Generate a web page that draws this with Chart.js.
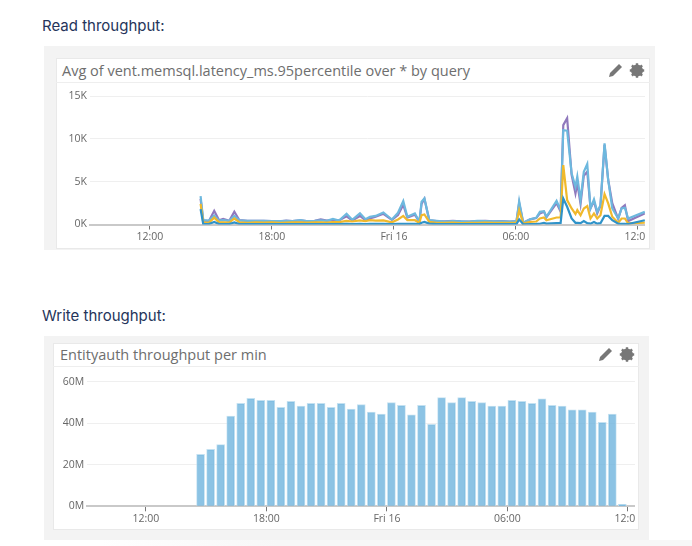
<!DOCTYPE html>
<html>
<head>
<meta charset="utf-8">
<script src="https://cdn.jsdelivr.net/npm/chart.js@4"></script>
<style>
  html, body { margin: 0; padding: 0; background: #fff; }
  body { width: 692px; height: 546px; position: relative; overflow: hidden; font-family: "Open Sans", sans-serif; }
  .heading { position: absolute; left: 42px; font: 15px Inter, sans-serif; color: #25345a; line-height: 20px; }
  .outer, .card, .rule, .title, svg, canvas { position: absolute; }
  .outer { background: #f3f3f3; }
  .card { background: #fff; border: 1px solid #e9e9e9; box-sizing: border-box; }
  .rule { height: 1px; background: #eeeeee; }
  .title { color: #6e6e6e; font-size: 14.5px; line-height: 20px; white-space: nowrap; }
  .fade { position: absolute; left: 100px; top: 540px; width: 592px; height: 6px; background: linear-gradient(90deg, #fff, #f7f7f7 30%); }
</style>
</head>
<body>
<div class="heading" style="top:16px">Read throughput:</div>
<div class="outer" style="left:44px;top:46px;width:611px;height:204px"></div>
<div class="card" style="left:56px;top:58px;width:594px;height:191px"></div>
<div class="rule" style="left:56px;top:82px;width:594px"></div>
<div class="title" style="left:62px;top:61px">Avg of vent.memsql.latency_ms.95percentile over * by query</div>
<svg style="left:609px;top:63px" width="36" height="15" viewBox="0 0 36 15">
  <path d="M0 14l1-4L10 1l3 3-9 9z" fill="#777"/>
  <g transform="translate(28 7.5)" fill="none" stroke="#777">
    <circle r="4.4" stroke-width="3.2"/>
    <path d="M0-7.2V7.2M-7.2 0H7.2M-5.1-5.1L5.1 5.1M-5.1 5.1L5.1-5.1" stroke-width="2.4"/>
  </g>
</svg>
<canvas id="readChart" width="589" height="166" style="left:56px;top:83px;width:589px;height:166px"></canvas>

<div class="heading" style="top:306px">Write throughput:</div>
<div class="outer" style="left:44px;top:336px;width:605px;height:204px"></div>
<div class="card" style="left:53px;top:343px;width:586px;height:187px"></div>
<div class="rule" style="left:53px;top:366px;width:586px"></div>
<div class="title" style="left:60px;top:345px">Entityauth throughput per min</div>
<svg style="left:599px;top:347px" width="36" height="15" viewBox="0 0 36 15">
  <path d="M0 14l1-4L10 1l3 3-9 9z" fill="#777"/>
  <g transform="translate(28 7.5)" fill="none" stroke="#777">
    <circle r="4.4" stroke-width="3.2"/>
    <path d="M0-7.2V7.2M-7.2 0H7.2M-5.1-5.1L5.1 5.1M-5.1 5.1L5.1-5.1" stroke-width="2.4"/>
  </g>
</svg>
<canvas id="writeChart" width="582" height="163" style="left:53px;top:367px;width:582px;height:163px"></canvas>
<div class="fade"></div>

<script>
// x axis is hours since Thursday 00:00
const tickHours = [12, 18, 24, 30, 36];
const tickLabels = ['12:00', '18:00', 'Fri 16', '06:00', '12:00'];

const readHours = [14.49, 14.62, 14.9, 15.16, 15.4, 15.6, 15.9, 16.15, 16.4, 16.8, 17.2, 17.6, 18.0, 18.4, 18.7, 19.0, 19.4, 19.7, 20.1, 20.4, 20.7, 21.0, 21.3, 21.67, 21.95, 22.33, 22.6, 22.82, 23.1, 23.48, 23.9, 24.2, 24.46, 24.66, 25.03, 25.25, 25.36, 25.5, 25.74, 26.1, 26.5, 26.9, 27.3, 27.7, 28.1, 28.5, 28.9, 29.3, 29.7, 30.03, 30.16, 30.36, 30.7, 31.0, 31.18, 31.38, 31.5, 32.0, 32.2, 32.33, 32.52, 32.74, 32.93, 33.02, 33.18, 33.34, 33.51, 33.67, 33.84, 34.0, 34.16, 34.36, 34.54, 34.74, 35.03, 35.2, 35.36, 35.52, 36.34];
const readPurple = [3000, 450, 400, 1600, 500, 650, 420, 1500, 500, 430, 420, 430, 400, 380, 450, 400, 480, 400, 420, 600, 450, 500, 470, 950, 480, 1000, 500, 700, 900, 1250, 530, 1100, 2300, 800, 1150, 300, 2400, 3000, 480, 400, 380, 420, 360, 350, 400, 420, 380, 400, 350, 400, 2500, 200, 600, 750, 1300, 1500, 850, 2500, 1500, 11600, 12400, 5800, 3630, 4800, 2400, 5700, 6160, 1900, 2700, 1300, 2200, 9300, 5190, 2500, 650, 1950, 2260, 400, 1290];
const readLightBlue = [3300, 500, 450, 1050, 450, 500, 430, 1000, 480, 420, 430, 420, 410, 400, 420, 410, 500, 410, 430, 480, 430, 650, 470, 1250, 550, 1300, 620, 900, 1000, 1400, 585, 1365, 2730, 900, 1290, 310, 2650, 3040, 500, 420, 350, 400, 380, 340, 440, 400, 370, 380, 340, 400, 2730, 200, 620, 780, 1480, 1560, 900, 2770, 1680, 11000, 10950, 5970, 4400, 5600, 2850, 6160, 7060, 1870, 2925, 1480, 2260, 9480, 5190, 1870, 700, 1870, 1950, 700, 1480];
const readYellow = [2400, 250, 200, 800, 250, 250, 220, 700, 260, 200, 260, 230, 250, 200, 220, 250, 240, 220, 240, 260, 230, 280, 280, 420, 350, 480, 380, 500, 450, 480, 250, 580, 1000, 500, 500, 200, 1090, 1170, 300, 200, 180, 220, 170, 200, 190, 230, 190, 200, 180, 200, 1680, 100, 300, 350, 700, 820, 500, 820, 820, 6940, 2850, 1870, 1210, 1680, 1090, 1870, 2150, 700, 1290, 700, 1090, 3550, 2460, 900, 200, 700, 700, 120, 230];
const readBlue = [1800, 60, 60, 300, 60, 60, 60, 250, 60, 60, 60, 60, 60, 60, 60, 60, 60, 60, 60, 60, 60, 60, 60, 70, 60, 70, 60, 70, 70, 70, 60, 70, 80, 70, 70, 60, 200, 300, 100, 40, 40, 40, 40, 40, 40, 40, 40, 40, 40, 50, 600, 30, 60, 70, 90, 200, 100, 150, 180, 3040, 2070, 700, 200, 200, 150, 400, 150, 100, 300, 100, 150, 1000, 1000, 500, 100, 80, 80, 60, 500];

const writeHours = [14.72, 15.22, 15.72, 16.22, 16.72, 17.22, 17.72, 18.22, 18.72, 19.22, 19.72, 20.22, 20.72, 21.22, 21.72, 22.22, 22.72, 23.22, 23.72, 24.22, 24.72, 25.22, 25.72, 26.22, 26.72, 27.22, 27.72, 28.22, 28.72, 29.22, 29.72, 30.22, 30.72, 31.22, 31.72, 32.22, 32.72, 33.22, 33.72, 34.22, 34.72, 35.22, 35.72];
const writeValues = [25, 27.4, 29.7, 43.5, 49.6, 52, 51, 51, 47.6, 50.5, 48.3, 49.6, 49.6, 47.6, 49.6, 46.8, 49, 45.4, 44.4, 50, 48.6, 44, 48.6, 39.5, 52.3, 50, 52.3, 50.5, 50, 48.3, 48.3, 51, 50.5, 49.6, 51.8, 48.6, 48.3, 46.4, 46.4, 45.4, 40.4, 44.4, 1];

const readTicks = [0, 5000, 10000, 15000];
const writeTicks = [0, 20, 40, 60];

const tickFont = { family: '"Open Sans", sans-serif', size: 10.5 };

function pairs(xs, ys) {
    return ys.map((y, i) => ({ x: xs[i], y: y }));
}

function lineSet(values, color) {
    return {
        data: pairs(readHours, values),
        borderColor: color,
        borderWidth: 2.2,
        pointRadius: 0,
        tension: 0,
    };
}

// both panels share the same axis setup, only the margins and y range differ
function baseOptions(xMin, xMax, yTicks, yMax, yLabel, yWidth, xHeight, topPad) {
    return {
        responsive: false,
        animation: false,
        layout: { padding: { top: topPad, left: 0, right: 0, bottom: 0 } },
        plugins: { legend: { display: false }, tooltip: { enabled: false } },
        scales: {
            x: {
                type: 'linear',
                offset: false,
                min: xMin,
                max: xMax,
                afterBuildTicks: scale => { scale.ticks = tickHours.map(v => ({ value: v })); },
                afterFit: scale => {
                    scale.height = xHeight;
                    scale.paddingLeft = 0;
                    scale.paddingRight = 0;
                },
                grid: { offset: false, drawOnChartArea: false, tickLength: 5, tickColor: '#777', tickWidth: 1 },
                border: { color: '#c9c9c9', width: 2 },
                ticks: {
                    autoSkip: false,
                    maxRotation: 0,
                    padding: 1,
                    color: '#666',
                    font: tickFont,
                    callback: (value, i) => tickLabels[i],
                },
            },
            y: {
                min: 0,
                max: yMax,
                afterBuildTicks: scale => { scale.ticks = yTicks.map(v => ({ value: v })); },
                afterFit: scale => {
                    scale.width = yWidth;
                    scale.paddingTop = 0;
                    scale.paddingBottom = 0;
                },
                grid: { color: '#efefef', drawTicks: false, lineWidth: 1 },
                border: { display: false },
                ticks: {
                    padding: 3,
                    color: '#666',
                    font: tickFont,
                    callback: yLabel,
                },
            },
        },
    };
}

new Chart(document.getElementById('readChart'), {
    type: 'line',
    data: {
        datasets: [
            lineSet(readBlue, '#2f93c9'),
            lineSet(readYellow, '#f0b92c'),
            lineSet(readLightBlue, '#6db8de'),
            lineSet(readPurple, '#9079bd'),
        ],
    },
    options: baseOptions(9.05, 36.35, readTicks, 15000, v => (v / 1000) + 'K', 34, 24.5, 13),
});

new Chart(document.getElementById('writeChart'), {
    type: 'bar',
    data: {
        datasets: [{
            data: pairs(writeHours, writeValues),
            backgroundColor: 'rgba(107, 178, 220, 0.78)',
            borderColor: 'rgba(190, 222, 240, 0.9)',
            borderWidth: 1,
            barThickness: 8,
        }],
    },
    options: baseOptions(9.08, 36.35, writeTicks, 60, v => v + 'M', 34.3, 23.7, 14.7),
});
</script>
</body>
</html>
